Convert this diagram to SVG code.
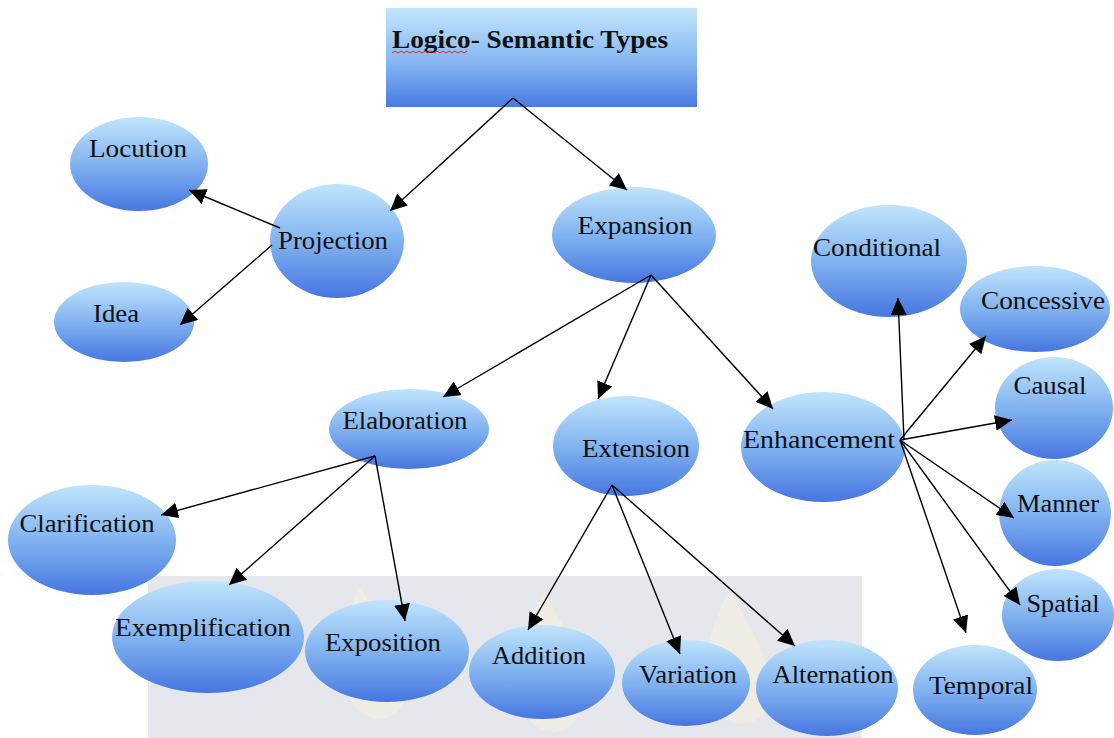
<svg xmlns="http://www.w3.org/2000/svg" width="1114" height="738" viewBox="0 0 1114 738">
<style>
.n{stroke:none;fill:url(#g)}
.t{font-family:"Liberation Serif","Times New Roman",serif;font-size:26px;fill:#111;text-anchor:middle}
.c line{stroke:#000;stroke-width:1.4;marker-end:url(#a)}
</style>
<defs>
<linearGradient id="g" x1="0" y1="0" x2="0" y2="1">
<stop offset="0" stop-color="#c0e5fc"/>
<stop offset="0.5" stop-color="#82b3f0"/>
<stop offset="1" stop-color="#4676e0"/>
</linearGradient>
<linearGradient id="gb" x1="0" y1="0" x2="0" y2="1">
<stop offset="0" stop-color="#c2e6fc"/>
<stop offset="0.55" stop-color="#86b6f1"/>
<stop offset="1" stop-color="#477be3"/>
</linearGradient>
<marker id="a" markerUnits="userSpaceOnUse" markerWidth="18" markerHeight="16" refX="17" refY="8" orient="auto">
<path d="M0,0 L17,8 L0,16 z" fill="#000"/>
</marker>
</defs>
<rect width="1114" height="738" fill="#fff"/>
<g id="watermark">
<rect x="148" y="576" width="714" height="162" fill="#e6e6ed"/>
<path d="M360,585 C345,620 330,660 350,700 C365,725 395,725 405,700 C420,660 380,630 360,585 z" fill="#f8f5d6" opacity="0.45"/>
<path d="M545,590 C525,630 505,680 525,715 C540,738 570,738 580,712 C595,670 565,635 545,590 z" fill="#f8f5d6" opacity="0.45"/>
<path d="M730,588 C712,625 695,670 712,705 C725,730 760,730 768,705 C780,665 748,630 730,588 z" fill="#f8f5d6" opacity="0.45"/>
</g>
<g id="title">
<rect x="386" y="8" width="311" height="99" fill="url(#gb)"/>
<text x="392" y="48" font-family="'Liberation Serif','Times New Roman',serif" font-size="25" font-weight="bold" fill="#111" textLength="276" lengthAdjust="spacingAndGlyphs">Logico<tspan font-weight="900">-</tspan> Semantic Types</text>
<path d="M392,53 l3,-2 l3,2 l3,-2 l3,2 l3,-2 l3,2 l3,-2 l3,2 l3,-2 l3,2 l3,-2 l3,2 l3,-2 l3,2 l3,-2 l3,2 l3,-2 l3,2 l3,-2 l3,2 l3,-2 l3,2 l3,-2 l3,2 l3,-2" fill="none" stroke="#e02020" stroke-width="1"/>
</g>
<g id="locution"><ellipse class="n" cx="139" cy="164" rx="69" ry="47"/><text class="t" x="138" y="157" textLength="98" lengthAdjust="spacingAndGlyphs">Locution</text></g>
<g id="projection"><ellipse class="n" cx="337" cy="241" rx="67" ry="57"/><text class="t" x="333" y="249" textLength="110" lengthAdjust="spacingAndGlyphs">Projection</text></g>
<g id="idea"><ellipse class="n" cx="124" cy="322" rx="70" ry="40"/><text class="t" x="116" y="322" textLength="46" lengthAdjust="spacingAndGlyphs">Idea</text></g>
<g id="expansion"><ellipse class="n" cx="634" cy="235" rx="82" ry="48"/><text class="t" x="635" y="234" textLength="115" lengthAdjust="spacingAndGlyphs">Expansion</text></g>
<g id="conditional"><ellipse class="n" cx="889" cy="261" rx="78" ry="56"/><text class="t" x="877" y="256" textLength="128" lengthAdjust="spacingAndGlyphs">Conditional</text></g>
<g id="concessive"><ellipse class="n" cx="1035" cy="309" rx="75" ry="43"/><text class="t" x="1043" y="309" textLength="124" lengthAdjust="spacingAndGlyphs">Concessive</text></g>
<g id="causal"><ellipse class="n" cx="1054" cy="408" rx="59" ry="51"/><text class="t" x="1050" y="394" textLength="73" lengthAdjust="spacingAndGlyphs">Causal</text></g>
<g id="elaboration"><ellipse class="n" cx="409" cy="429" rx="80" ry="40"/><text class="t" x="405" y="429" textLength="125" lengthAdjust="spacingAndGlyphs">Elaboration</text></g>
<g id="extension"><ellipse class="n" cx="626" cy="446" rx="73" ry="50"/><text class="t" x="636" y="457" textLength="108" lengthAdjust="spacingAndGlyphs">Extension</text></g>
<g id="enhancement"><ellipse class="n" cx="823" cy="447" rx="82" ry="55"/><text class="t" x="819" y="448" textLength="152" lengthAdjust="spacingAndGlyphs">Enhancement</text></g>
<g id="manner"><ellipse class="n" cx="1055" cy="513" rx="56" ry="53"/><text class="t" x="1058" y="512" textLength="82" lengthAdjust="spacingAndGlyphs">Manner</text></g>
<g id="clarification"><ellipse class="n" cx="92" cy="540" rx="84" ry="55"/><text class="t" x="87" y="532" textLength="135" lengthAdjust="spacingAndGlyphs">Clarification</text></g>
<g id="exemplification"><ellipse class="n" cx="208" cy="637" rx="96" ry="56"/><text class="t" x="203" y="636" textLength="176" lengthAdjust="spacingAndGlyphs">Exemplification</text></g>
<g id="exposition"><ellipse class="n" cx="387" cy="651" rx="82" ry="51"/><text class="t" x="383" y="651" textLength="116" lengthAdjust="spacingAndGlyphs">Exposition</text></g>
<g id="addition"><ellipse class="n" cx="542" cy="672" rx="73" ry="47"/><text class="t" x="539" y="664" textLength="94" lengthAdjust="spacingAndGlyphs">Addition</text></g>
<g id="variation"><ellipse class="n" cx="686" cy="683" rx="64" ry="43"/><text class="t" x="688" y="683" textLength="98" lengthAdjust="spacingAndGlyphs">Variation</text></g>
<g id="alternation"><ellipse class="n" cx="827" cy="688" rx="71" ry="48"/><text class="t" x="833" y="683" textLength="121" lengthAdjust="spacingAndGlyphs">Alternation</text></g>
<g id="spatial"><ellipse class="n" cx="1058" cy="615" rx="56" ry="46"/><text class="t" x="1063" y="612" textLength="73" lengthAdjust="spacingAndGlyphs">Spatial</text></g>
<g id="temporal"><ellipse class="n" cx="975" cy="690" rx="62" ry="45"/><text class="t" x="981" y="694" textLength="104" lengthAdjust="spacingAndGlyphs">Temporal</text></g>
<g id="connectors" class="c">
<line x1="513" y1="98" x2="390" y2="211"/>
<line x1="513" y1="98" x2="627" y2="190"/>
<line x1="280" y1="228" x2="189" y2="190"/>
<line x1="272" y1="245" x2="180" y2="325"/>
<line x1="651" y1="275" x2="443" y2="397"/>
<line x1="651" y1="275" x2="598" y2="399"/>
<line x1="651" y1="275" x2="773" y2="409"/>
<line x1="375" y1="456" x2="161" y2="515"/>
<line x1="375" y1="456" x2="229" y2="585"/>
<line x1="375" y1="456" x2="405" y2="621"/>
<line x1="612" y1="485" x2="528" y2="630"/>
<line x1="612" y1="485" x2="680" y2="654"/>
<line x1="612" y1="485" x2="795" y2="646"/>
<line x1="904" y1="440" x2="898" y2="298"/>
<line x1="900" y1="440" x2="986" y2="336"/>
<line x1="900" y1="440" x2="1012" y2="420"/>
<line x1="900" y1="440" x2="1014" y2="518"/>
<line x1="900" y1="440" x2="1020" y2="605"/>
<line x1="900" y1="440" x2="966" y2="633"/>
</g>
</svg>
